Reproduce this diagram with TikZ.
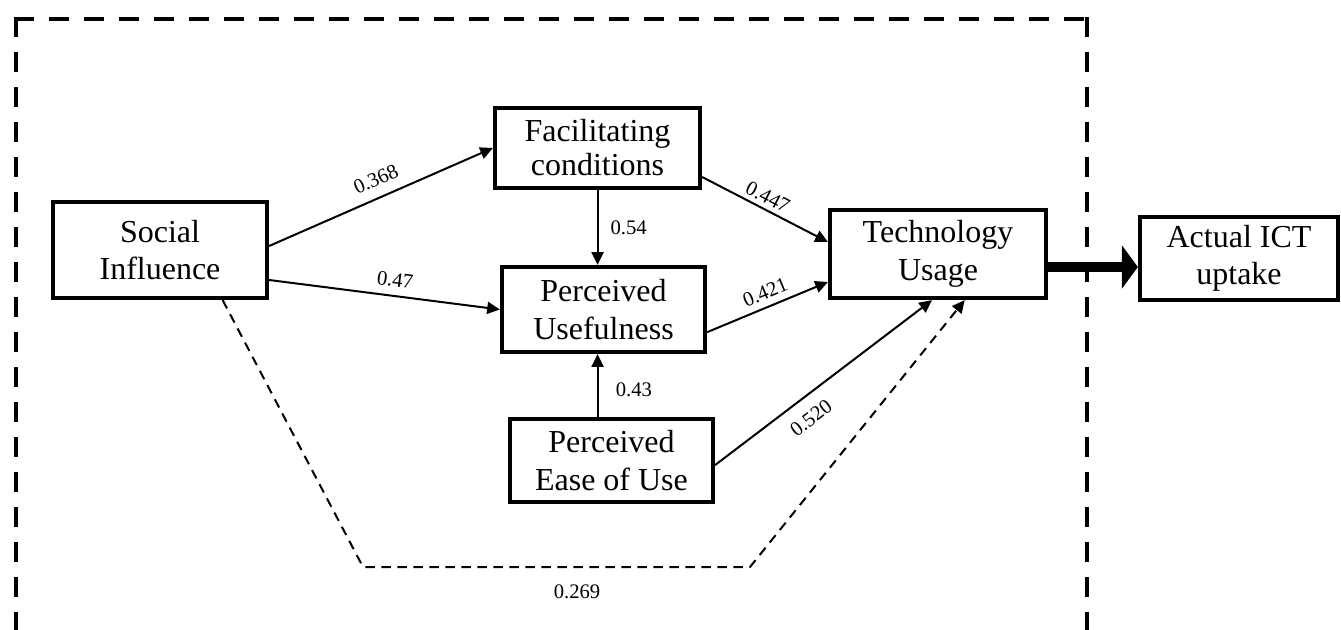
\documentclass[tikz,border=0pt]{standalone}
\usepackage{fontspec}
\setmainfont{Liberation Serif}
\usetikzlibrary{arrows.meta,calc}
\begin{document}
\begin{tikzpicture}[x=0.75pt,y=-0.75pt,
  box/.style={draw,line width=3.2pt,inner sep=0pt,align=center,font=\fontsize{24}{28}\selectfont},
  arr/.style={line width=1.5pt,-{Triangle[length=9.5pt,width=9pt]}},
  darr/.style={arr,dash pattern=on 7pt off 5pt},
  lbl/.style={font=\fontsize{15.5}{18}\selectfont,inner sep=0pt},
  frame/.style={line width=3.6pt,line cap=rect,dash pattern=on 11.4pt off 14.85pt},
  bigarr/.style={line width=7pt,-{Triangle[length=12pt,width=32pt]}}
]
\useasboundingbox (0,0) rectangle (1341,630);
% dashed frame
\coordinate (tl) at (16,19);
\coordinate (tr) at (1087,19);
\coordinate (bl) at (16,634);
\coordinate (br) at (1087,634);
\draw[frame] (tl) -- (bl);
\draw[frame] (tl) -- (tr);
\draw[frame] (tr) -- (br);
% nodes
\node[box,minimum width=160.5pt,minimum height=72pt] (si) at (160,250) {Social\\Influence};
\node[box,minimum width=153.75pt,minimum height=60pt,font=\fontsize{24}{25.5}\selectfont] (fc) at (597.5,148) {Facilitating\\conditions};
\node[box,minimum width=152.25pt,minimum height=63.75pt] (pu) at (603.5,309.5) {Perceived\\Usefulness};
\node[box,minimum width=152.25pt,minimum height=62.25pt] (peou) at (611.5,460.5) {Perceived\\Ease of Use};
\node[box,minimum width=162pt,minimum height=66pt] (tu) at (938,254) {Technology\\Usage};
\node[box,minimum width=148.5pt,minimum height=62.25pt] (ict) at (1239,258.5) {Actual ICT\\uptake};
% connectors
\draw[arr] ([yshift=3pt]si.east) -- (fc.west) node[lbl,pos=0.51,sloped,above=7.8pt] {0.368};
\draw[arr] ([yshift=-22.5pt]si.east) -- (pu.west) node[lbl,pos=0.537,sloped,above=5.8pt] {0.47};
\draw[arr] (fc.south) -- (fc.south |- pu.north) node[lbl,midway,right=9pt] {0.54};
\draw[arr] ([yshift=-21.75pt]fc.east) -- ([yshift=9pt]tu.west) node[lbl,pos=0.477,sloped,above=3.3pt] {0.447};
\draw[arr] ([yshift=-17pt]pu.east) -- ([yshift=-21pt]tu.west) node[lbl,pos=0.528,sloped,above=5.1pt] {0.421};
\draw[arr] (fc.south |- peou.north) -- (fc.south |- pu.south) node[lbl,pos=0.43,right=13pt] {0.43};
\draw[arr] ([yshift=-3.4pt]peou.east) -- ([xshift=-4.5pt]tu.south) node[lbl,pos=0.384,sloped,below=9.5pt] {0.520};
\coordinate (c1) at (363,567);
\coordinate (c2) at (750,567);
\draw[darr] ([xshift=47pt]si.south) -- (c1) -- (c2) node[lbl,pos=0.553,below=12.9pt] {0.269} -- ([xshift=20pt]tu.south);
\coordinate (tx) at ([yshift=-9.75pt]tu.east);
\draw[bigarr] (tx) -- (tx -| ict.west);
\end{tikzpicture}
\end{document}
